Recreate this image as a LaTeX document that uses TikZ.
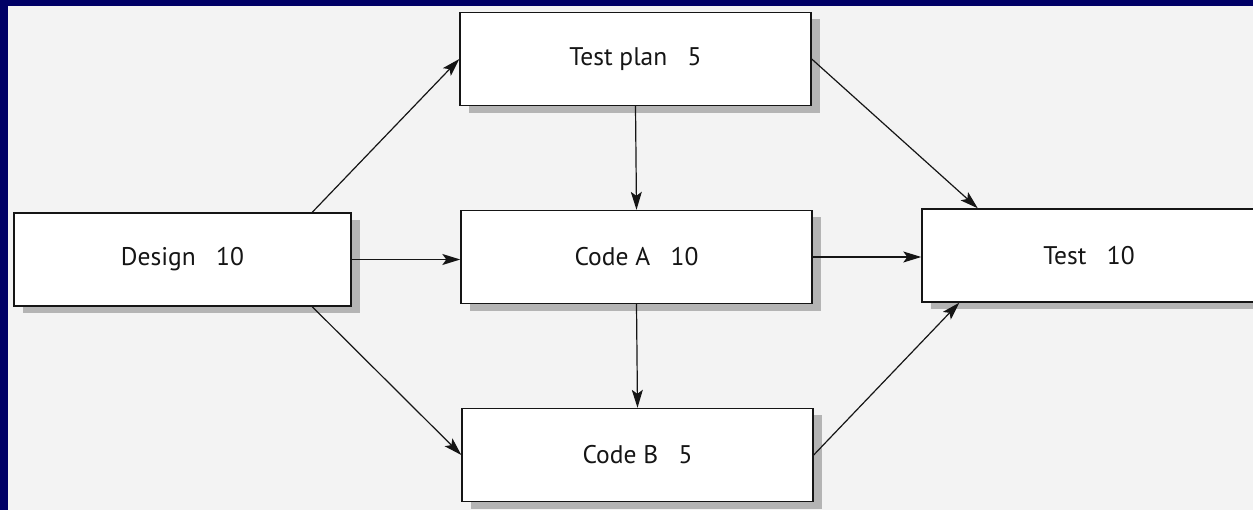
\documentclass[tikz,border=0pt]{standalone}
\usepackage{fontspec}
\setmainfont{PT Sans}
\usetikzlibrary{arrows.meta,calc}
\definecolor{pagebg}{HTML}{F3F3F3}
\definecolor{frame}{HTML}{000066}
\definecolor{ink}{HTML}{151515}
\definecolor{shadowgray}{HTML}{B4B4B4}
\tikzset{
  box/.style={draw=ink, line width=1.4pt, fill=white, rectangle, minimum height=93pt, inner sep=0pt, text=ink, font=\fontsize{25.5}{30}\selectfont},
  conn/.style={draw=ink, line width=1.2pt, -{Stealth[length=18pt,width=11pt,inset=4pt]}},
  shadowbox/.style={fill=shadowgray, draw=none}
}
\newcommand{\gap}{\hspace{0.8em}}
\begin{document}
\begin{tikzpicture}[x=1pt,y=-1pt]
  \useasboundingbox (0,0) rectangle (1253,510);
  \clip (0,0) rectangle (1253,510);
  \fill[pagebg] (0,0) rectangle (1253,510);
  % shadows
  \fill[shadowbox] (23,220) rectangle (360,313);
  \fill[shadowbox] (469,19) rectangle (820,113);
  \fill[shadowbox] (470,217) rectangle (821,311);
  \fill[shadowbox] (471,415) rectangle (822,509);
  \fill[shadowbox] (931,216) rectangle (1265,309);
  % boxes
  \node[box, minimum width=337pt] (d) at (182.5,259.5) {Design\gap 10};
  \node[box, minimum width=351pt] (tp) at (635.5,59) {Test plan\gap 5};
  \node[box, minimum width=351pt] (ca) at (636.5,257) {Code A\gap 10};
  \node[box, minimum width=351pt] (cb) at (637.5,455) {Code B\gap 5};
  \node[box, minimum width=334pt] (t) at (1089,255.5) {Test\gap 10};
  % connectors
  \draw[conn] (d.20) -- (tp.west);
  \draw[conn] (d.east) -- (d.east -| ca.west);
  \draw[conn] (d.-20) -- (cb.west);
  \draw[conn] (tp.south) -- (ca.north);
  \draw[conn] (ca.south) -- (cb.north);
  \draw[conn] (tp.east) -- (t.157);
  \draw[conn] (ca.east) -- (ca.east -| t.west);
  \draw[conn] (cb.east) -- (t.200);
  % frame
  \fill[frame] (0,0) rectangle (1253,6);
  \fill[frame] (0,0) rectangle (8,510);
\end{tikzpicture}
\end{document}
